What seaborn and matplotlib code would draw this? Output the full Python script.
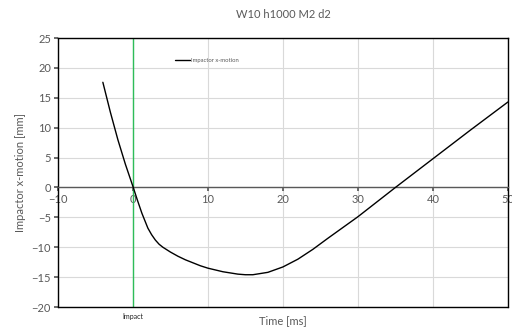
import matplotlib
matplotlib.use("Agg")
import matplotlib.pyplot as plt
import matplotlib.transforms as mtransforms
import seaborn as sns
import pandas as pd

time_ms = [-4.0, -3, -2, -1, 0, 0.6, 1.2, 2, 2.5, 3, 3.5, 4, 5, 6, 7, 8, 9, 10, 12, 14, 15, 16, 17,
           18, 20, 22, 24, 26, 28, 30, 35, 40, 45, 50]
x_motion = [17.6, 12.6, 8.0, 3.9, 0.2, -2.1, -4.3, -6.8, -7.9, -8.8, -9.5, -10.0, -10.8, -11.5,
            -12.1, -12.6, -13.1, -13.5, -14.1, -14.5, -14.6, -14.6, -14.4, -14.2, -13.3, -12.0,
            -10.35, -8.5, -6.7, -4.9, 0.0, 4.8, 9.6, 14.3]
x_ticks = [-10, 0, 10, 20, 30, 40, 50]
y_ticks = [-20, -15, -10, -5, 0, 5, 10, 15, 20, 25]
impact_time = 0
title = "W10 h1000 M2 d2"

sns.set_theme(style="whitegrid")
plt.rcParams['font.family'] = ['Lato', 'DejaVu Sans']
txt = '#595959'

fig = plt.figure(figsize=(5.12, 3.31), dpi=100)
ax = fig.add_axes([0.113, 0.0725, 0.879, 0.8125])

df = pd.DataFrame({"Time [ms]": time_ms, "Impactor x-motion": x_motion})
sns.lineplot(data=df, x="Time [ms]", y="Impactor x-motion", ax=ax, color='black',
             linewidth=1.0, label="Impactor x-motion", zorder=3)
ax.axvline(impact_time, color='#2ebd59', linewidth=1.0, zorder=2)

ax.set_xlim(-10, 50)
ax.set_ylim(-20, 25)
ax.set_xticks(x_ticks)
ax.set_yticks(y_ticks)
ax.grid(True, color='#d9d9d9', linewidth=0.8)

for s in ['left', 'right', 'top']:
    ax.spines[s].set_color('black')
    ax.spines[s].set_linewidth(1.0)
ax.spines['bottom'].set_position(('data', 0))
ax.spines['bottom'].set_color('#595959')
ax.spines['bottom'].set_linewidth(1.0)
ax.axhline(-20, color='black', linewidth=1.0, clip_on=False, zorder=4)

ax.tick_params(axis='x', colors=txt, labelsize=8, length=3, direction='out', pad=2, bottom=True, color='#595959')
ax.tick_params(axis='y', colors=txt, labelsize=8, length=3, pad=2, left=True, color='#595959')

ax.set_xlabel("")
ax.set_ylabel("Impactor x-motion [mm]", color=txt, fontsize=8, labelpad=4)
fig.text(0.553, 0.015, "Time [ms]", color=txt, fontsize=8, ha='center', va='bottom')

trans = mtransforms.blended_transform_factory(ax.transData, ax.transAxes)
ax.text(impact_time, -0.022, "Impact", transform=trans, ha='center', va='top', fontsize=5, color='#222222')

fig.text(0.553, 0.955, title, color=txt, fontsize=8, ha='center', va='center')

leg = ax.legend(loc='upper left', bbox_to_anchor=(0.255, 0.935), frameon=False, fontsize=4.2,
                handlelength=2.5, handletextpad=0.2, borderaxespad=0)
for t in leg.get_texts():
    t.set_color(txt)

fig.savefig("out.png", dpi=100)
